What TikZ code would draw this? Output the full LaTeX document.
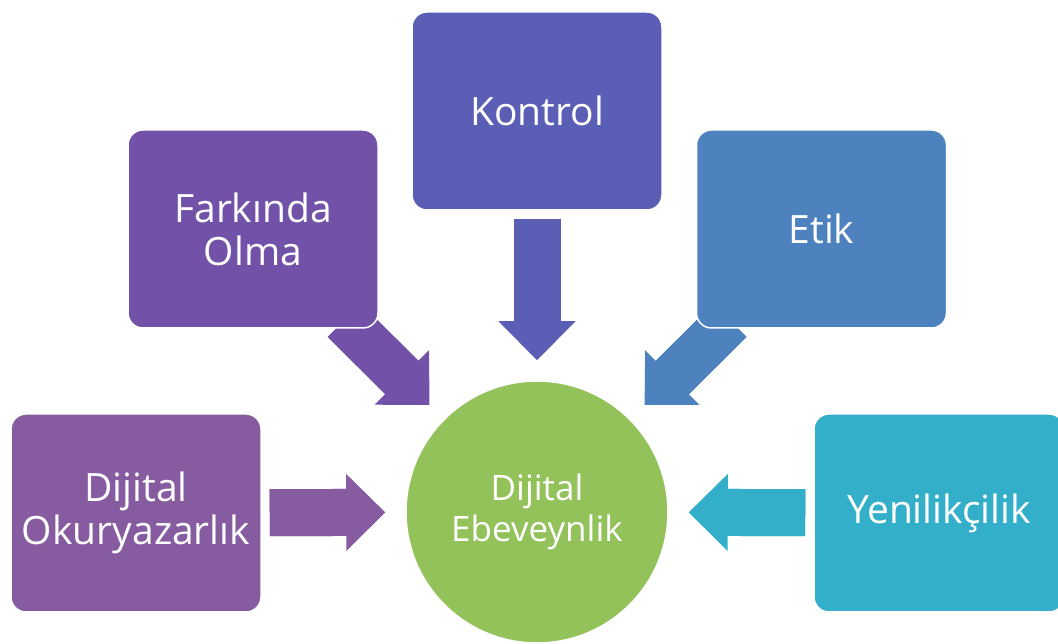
\documentclass[tikz,border=0pt]{standalone}
\usepackage{fontspec}
\setmainfont{Open Sans}
\usetikzlibrary{arrows.meta, backgrounds}
\definecolor{okucol}{HTML}{875BA0}
\definecolor{farkcol}{HTML}{7152A8}
\definecolor{kontcol}{HTML}{5A5EB4}
\definecolor{etikcol}{HTML}{4E82BE}
\definecolor{yenicol}{HTML}{33AFC9}
\definecolor{centcol}{HTML}{93C25A}
\begin{document}
\begin{tikzpicture}[x=1pt, y=1pt,
        box/.style={rounded corners=15pt, draw=white, line width=1.5pt, minimum width=250pt, minimum height=198pt,
            align=center, text=white, font=\fontsize{39}{43}\selectfont},
        bigarrow/.style={line width=47pt, -{Triangle[length=39pt, width=77pt, line width=0pt]},
            shorten <=8pt, shorten >=20pt, postaction={draw, -, shorten >=54pt}}]
            \useasboundingbox (0, 0) rectangle (1058, 644);

            \node[circle, fill=centcol, draw=white, line width=1.5pt, minimum size=262pt, align=center,
                text=white, font=\fontsize{35}{41}\selectfont] (cen) at (537, 132) {Dijital\\Ebeveynlik};

            \node[box, fill=okucol] (oku) at (136, 131) {Dijital\\Okuryazarlık};
            \node[box, fill=farkcol] (fark) at (253, 415) {Farkında\\Olma};
            \node[box, fill=kontcol] (kont) at (537, 533) {Kontrol};
            \node[box, fill=etikcol] (etik) at (821.5, 415) {Etik};
            \node[box, fill=yenicol] (yeni) at (939, 131) {Yenilikçilik};

            \begin{scope}[on background layer]
                \draw[bigarrow, okucol] (oku) -- (cen);
                \draw[bigarrow, farkcol, shorten <=-12pt] (fark) -- (cen);
                \draw[bigarrow, kontcol] (kont) -- (cen);
                \draw[bigarrow, etikcol, shorten <=-12pt] (etik) -- (cen);
                \draw[bigarrow, yenicol] (yeni) -- (cen);
            \end{scope}
        \end{tikzpicture}
\end{document}
